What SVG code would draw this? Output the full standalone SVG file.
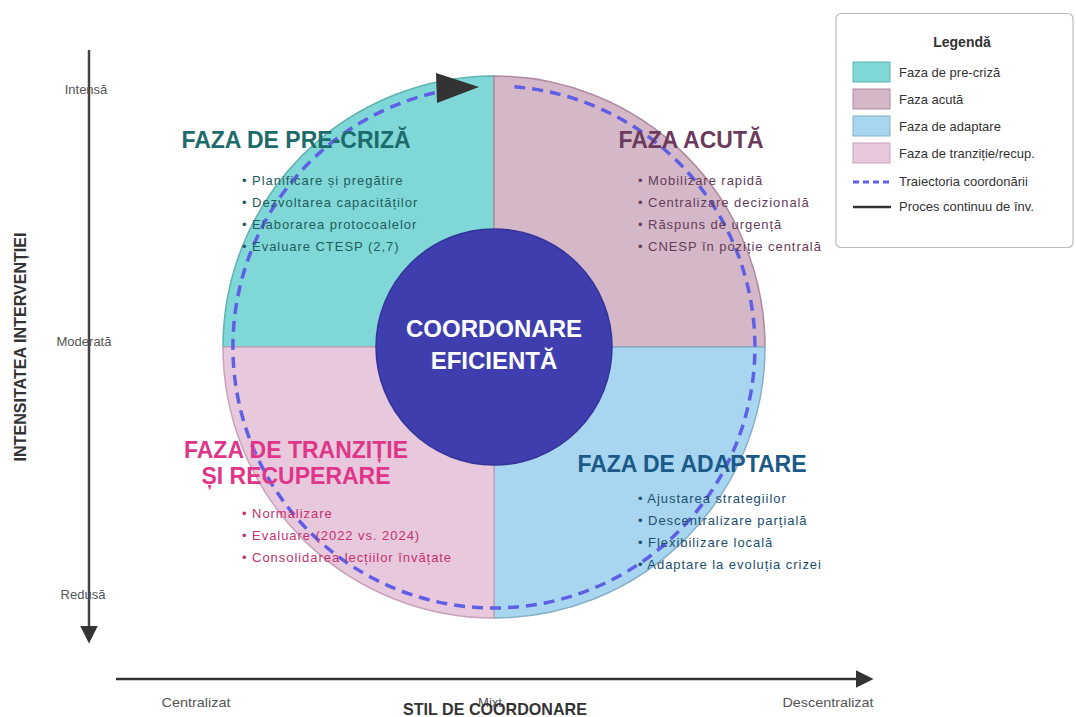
<svg xmlns="http://www.w3.org/2000/svg" width="1076" height="717" viewBox="0 0 1076 717">
<style>
text{font-family:"Liberation Sans",Arial,sans-serif}
.title{font-size:23px;font-weight:bold;text-anchor:middle}
.bul{font-size:13px;letter-spacing:0.95px}
.ax{font-size:13px;fill:#555;text-anchor:middle}
.leg{font-size:13px;fill:#333}
.pre{fill:#1d6b6b}.acu{fill:#6b3a5c}.tra{fill:#e0368a}.ada{fill:#1b5a88}
.preb{fill:#245c5c}.acub{fill:#653b58}.trab{fill:#c5306f}.adab{fill:#214e6e}
</style>
<defs>
<marker id="axarr" viewBox="0 0 10 10" refX="0" refY="5" markerWidth="7" markerHeight="7" markerUnits="strokeWidth" orient="auto">
<path d="M0,0 L10,5 L0,10 Z" fill="#333"/>
</marker>
</defs>
<rect width="1076" height="717" fill="#fff"/>

<g id="quadrant-pre-criza">
<path d="M494,347 L494,76 A271,271 0 0 0 223,347 Z" fill="#7fd8d7" stroke="#5fb3b0" stroke-width="1.5"/>
</g>
<g id="quadrant-acuta">
<path d="M494,347 L494,76 A271,271 0 0 1 765,347 Z" fill="#d5b8c8" stroke="#b08aa0" stroke-width="1.5"/>
</g>
<g id="quadrant-adaptare">
<path d="M494,347 L765,347 A271,271 0 0 1 494,618 Z" fill="#a8d5ef" stroke="#86b0c8" stroke-width="1.5"/>
</g>
<g id="quadrant-tranzitie">
<path d="M494,347 L494,618 A271,271 0 0 1 223,347 Z" fill="#e8c8dc" stroke="#c8a3b8" stroke-width="1.5"/>
</g>

<g id="connectors">
<path d="M514.4,86.8 A261,261 0 1 1 436,92.5" fill="none" stroke="#5f5fe6" stroke-width="3.5" stroke-dasharray="11,7"/>
<polygon points="436,73 479,87 437,103" fill="#333"/>
<line x1="89" y1="50" x2="89" y2="626" stroke="#444" stroke-width="2.5" marker-end="url(#axarr)"/>
<line x1="116" y1="679" x2="856" y2="679" stroke="#333" stroke-width="2.5" marker-end="url(#axarr)"/>
</g>

<g id="center">
<circle cx="494" cy="347" r="118" fill="#3f3eae" stroke="#34339a" stroke-width="1.5"/>
<text x="494" y="337" font-size="24" font-weight="bold" fill="#fff" text-anchor="middle">COORDONARE</text>
<text x="494" y="369" font-size="24" font-weight="bold" fill="#fff" text-anchor="middle">EFICIENTĂ</text>
</g>

<g id="text-pre-criza">
<text class="title pre" x="296" y="148">FAZA DE PRE-CRIZĂ</text>
<text class="bul preb" x="242" y="185">• Planificare și pregătire</text>
<text class="bul preb" x="242" y="207">• Dezvoltarea capacităților</text>
<text class="bul preb" x="242" y="229">• Elaborarea protocoalelor</text>
<text class="bul preb" x="242" y="251">• Evaluare CTESP (2,7)</text>
</g>
<g id="text-acuta">
<text class="title acu" x="691" y="148">FAZA ACUTĂ</text>
<text class="bul acub" x="638" y="185">• Mobilizare rapidă</text>
<text class="bul acub" x="638" y="207">• Centralizare decizională</text>
<text class="bul acub" x="638" y="229">• Răspuns de urgență</text>
<text class="bul acub" x="638" y="251">• CNESP în poziție centrală</text>
</g>
<g id="text-tranzitie">
<text class="title tra" x="296" y="458">FAZA DE TRANZIȚIE</text>
<text class="title tra" x="296" y="484">ȘI RECUPERARE</text>
<text class="bul trab" x="242" y="518">• Normalizare</text>
<text class="bul trab" x="242" y="540">• Evaluare (2022 vs. 2024)</text>
<text class="bul trab" x="242" y="562">• Consolidarea lecțiilor învățate</text>
</g>
<g id="text-adaptare">
<text class="title ada" x="692" y="472">FAZA DE ADAPTARE</text>
<text class="bul adab" x="638" y="503">• Ajustarea strategiilor</text>
<text class="bul adab" x="638" y="525">• Descentralizare parțială</text>
<text class="bul adab" x="638" y="547">• Flexibilizare locală</text>
<text class="bul adab" x="638" y="569">• Adaptare la evoluția crizei</text>
</g>

<g id="y-axis-labels">
<text class="ax" x="86" y="94">Intensă</text>
<text class="ax" x="84" y="346">Moderată</text>
<text class="ax" x="83" y="599">Redusă</text>
<text x="0" y="0" font-size="17" font-weight="bold" fill="#333" text-anchor="middle" textLength="229" lengthAdjust="spacingAndGlyphs" transform="translate(26,347) rotate(-90)">INTENSITATEA INTERVENȚIEI</text>
</g>
<g id="x-axis-labels">
<text class="ax" x="196" y="707" textLength="69" lengthAdjust="spacingAndGlyphs">Centralizat</text>
<text class="ax" x="490" y="707">Mixt</text>
<text class="ax" x="828" y="707" textLength="91" lengthAdjust="spacingAndGlyphs">Descentralizat</text>
<text x="495" y="715" font-size="17" font-weight="bold" fill="#333" text-anchor="middle" textLength="184" lengthAdjust="spacingAndGlyphs">STIL DE COORDONARE</text>
</g>

<g id="legend">
<rect x="836" y="13.5" width="237" height="234" rx="5" fill="#fff" stroke="#bbb" stroke-width="1.2"/>
<text x="962" y="47" font-size="14" font-weight="bold" fill="#333" text-anchor="middle">Legendă</text>
<rect x="853" y="62" width="37" height="20" fill="#7fd8d7" stroke="#5fb3b0"/>
<text class="leg" x="899" y="77">Faza de pre-criză</text>
<rect x="853" y="89" width="37" height="20" fill="#d5b8c8" stroke="#b08aa0"/>
<text class="leg" x="899" y="104">Faza acută</text>
<rect x="853" y="116" width="37" height="20" fill="#a8d5ef" stroke="#86b0c8"/>
<text class="leg" x="899" y="131">Faza de adaptare</text>
<rect x="853" y="143" width="37" height="20" fill="#e8c8dc" stroke="#c8a3b8"/>
<text class="leg" x="899" y="158">Faza de tranziție/recup.</text>
<line x1="853" y1="182" x2="891" y2="182" stroke="#5f5fe6" stroke-width="3" stroke-dasharray="6,4"/>
<text class="leg" x="899" y="186">Traiectoria coordonării</text>
<line x1="853" y1="207" x2="891" y2="207" stroke="#333" stroke-width="2.5"/>
<text class="leg" x="899" y="211">Proces continuu de înv.</text>
</g>
</svg>
